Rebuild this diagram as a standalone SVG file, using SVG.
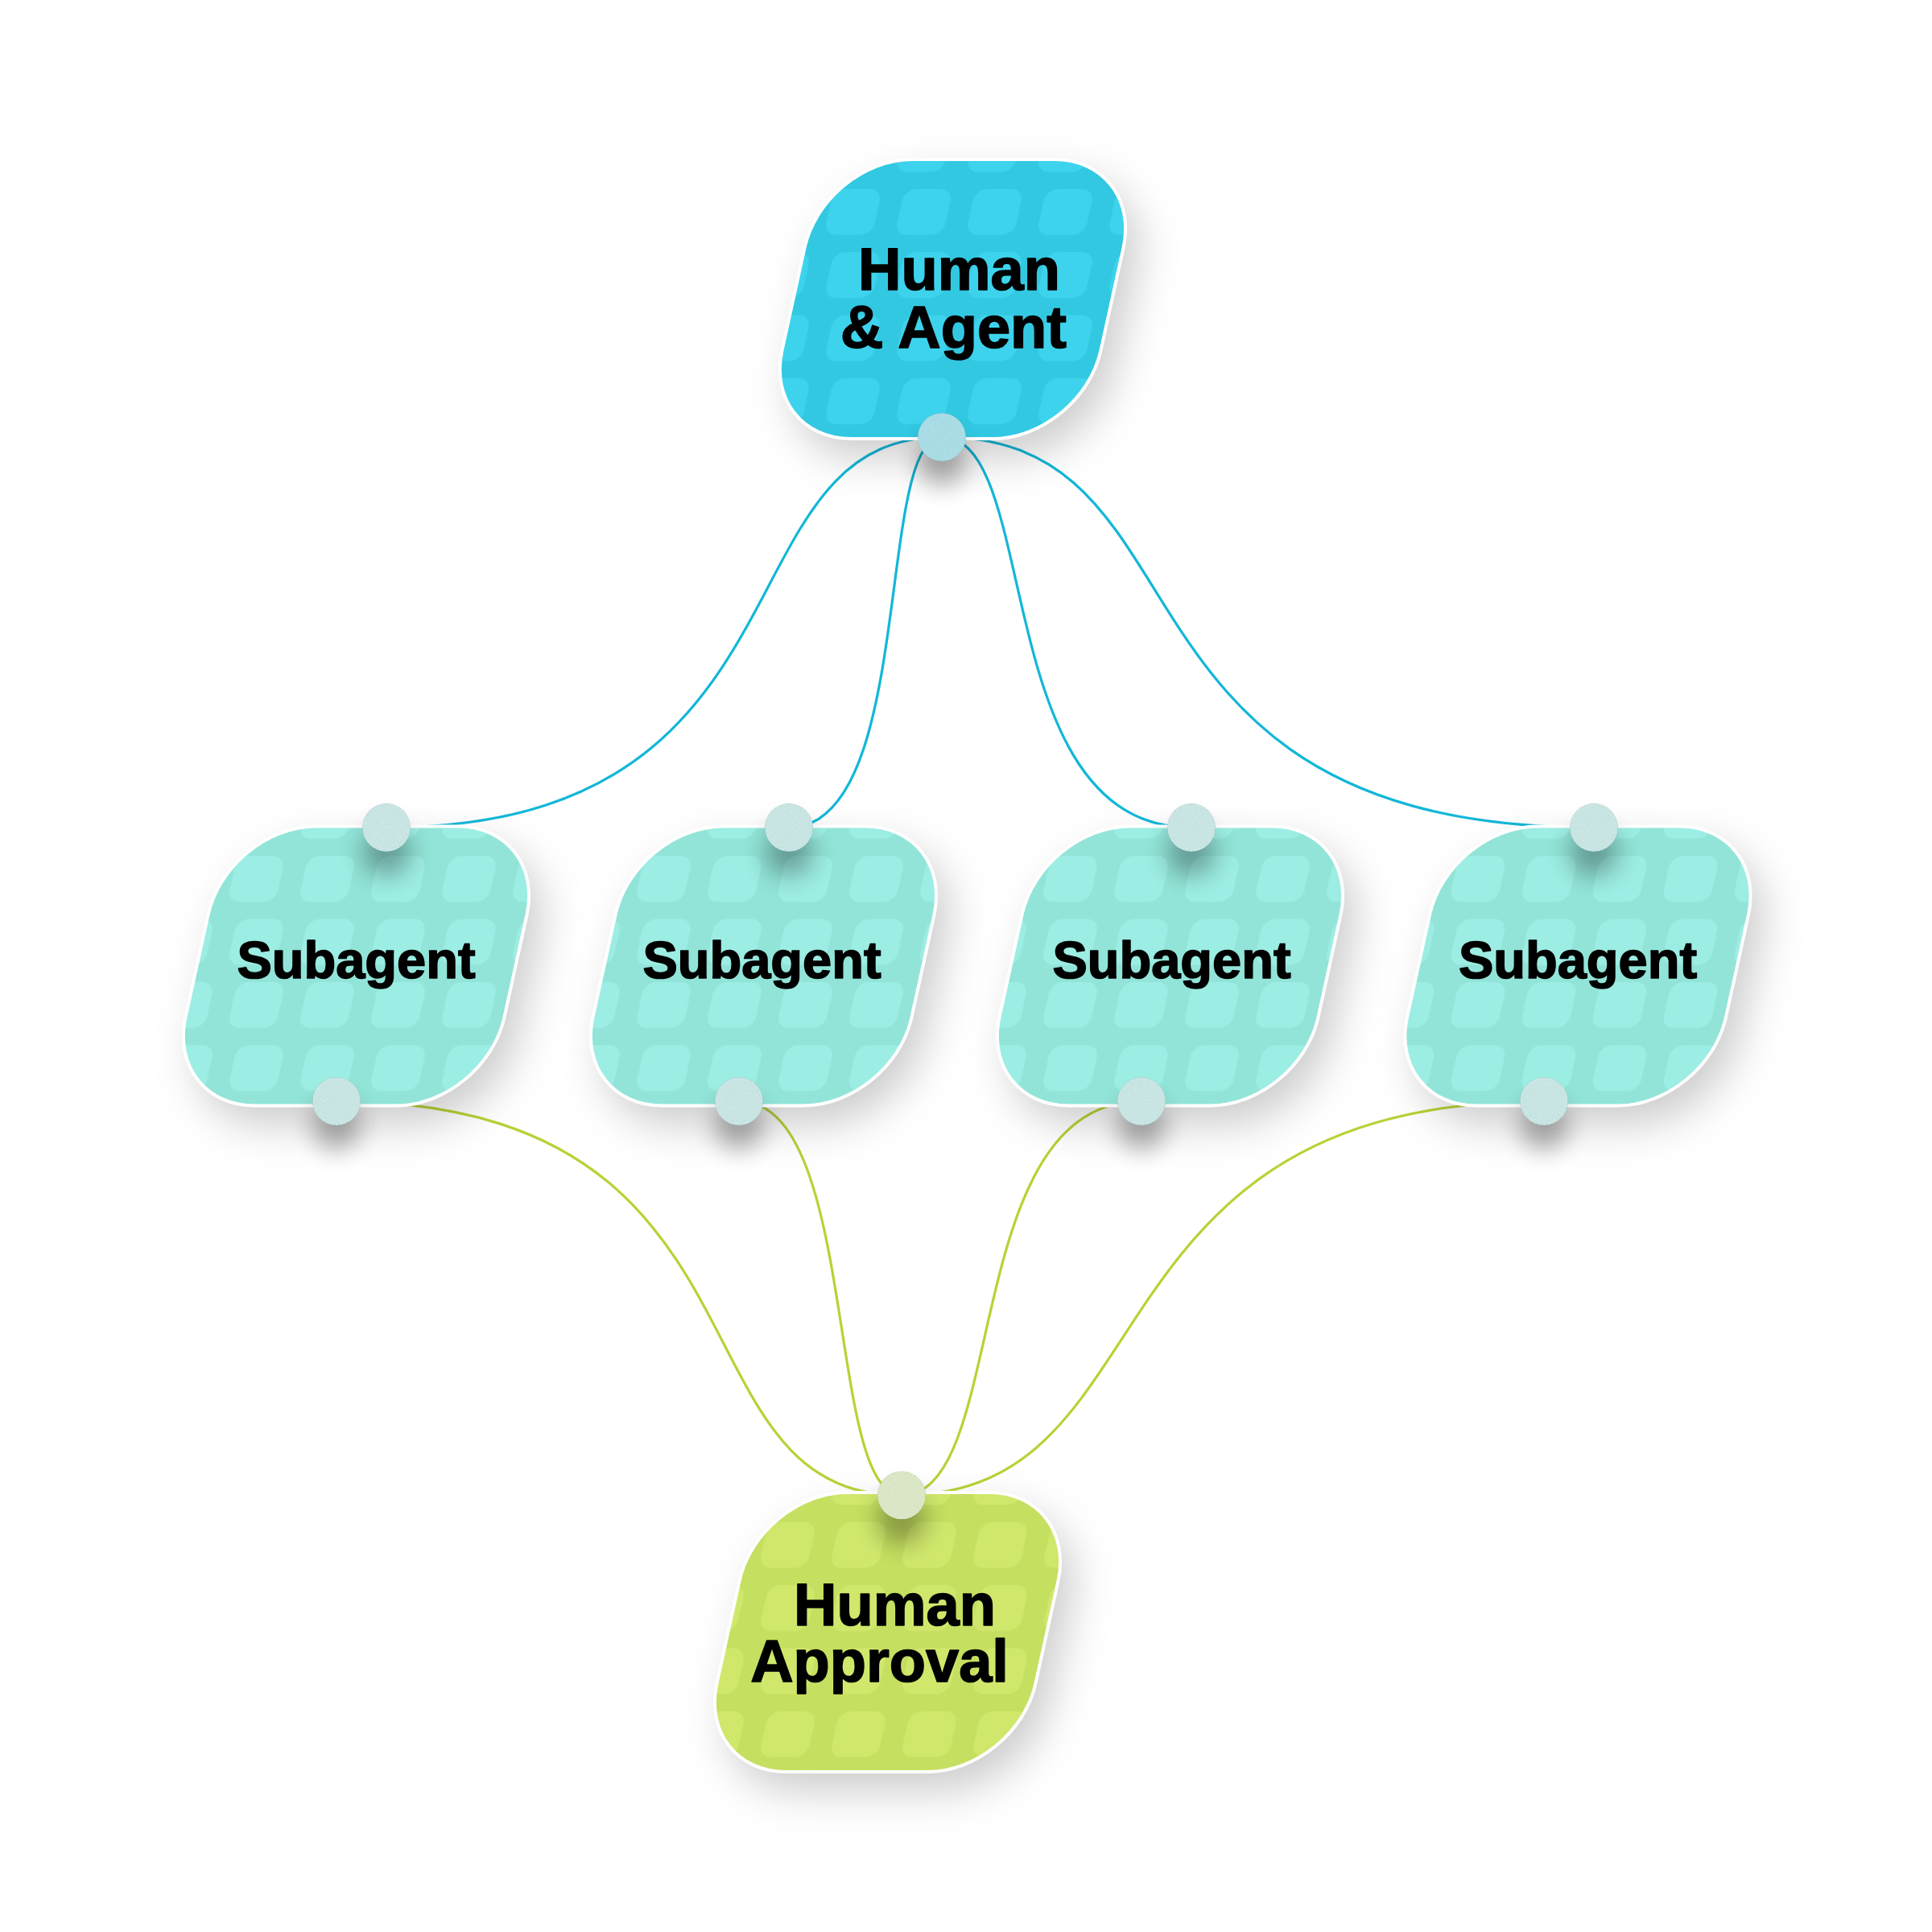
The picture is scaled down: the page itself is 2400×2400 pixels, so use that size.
<svg xmlns="http://www.w3.org/2000/svg" width="2400" height="2400" viewBox="0 0 2400 2400">
<defs>
<style>
.conn{fill:none;stroke-width:3.2;stroke-linecap:round}
.blue{stroke:#12b7d8}
.green{stroke:#b6d336}
.label{font-family:"Liberation Sans",Arial,sans-serif;font-weight:bold;fill:#000;stroke:#000;stroke-width:1.6;stroke-linejoin:round;text-anchor:middle}
.big{font-size:74px}
.mid{font-size:65px}
.outline{fill:none;stroke:#ffffff;stroke-width:4}
.portTop{fill:#a9dce5}
.portSub{fill:#c8e5e3}
.portBot{fill:#dbe6c6}
</style>
<path id="shape" d="M -49.83 -173.5 L 126.17 -173.5 C 186.92 -173.5 225.34 -124.25 211.97 -63.5 L 184.03 63.5 C 170.67 124.25 110.58 173.5 49.83 173.5 L -126.17 173.5 C -186.92 173.5 -225.34 124.25 -211.97 63.5 L -184.03 -63.5 C -170.67 -124.25 -110.58 -173.5 -49.83 -173.5 Z"/>
<pattern id="pTop" patternUnits="userSpaceOnUse" x="12" y="14" width="88" height="78.33">
<rect x="-30" y="-28.5" width="60" height="57" rx="15" transform="translate(40 34.5) skewX(-12.4)" fill="#3ed3ed"/>
</pattern>
<pattern id="pSub" patternUnits="userSpaceOnUse" x="12" y="14" width="88" height="78.33">
<rect x="-30" y="-28.5" width="60" height="57" rx="15" transform="translate(40 34.5) skewX(-12.4)" fill="#9cede3"/>
</pattern>
<pattern id="pBot" patternUnits="userSpaceOnUse" x="12" y="14" width="88" height="78.33">
<rect x="-30" y="-28.5" width="60" height="57" rx="15" transform="translate(40 34.5) skewX(-12.4)" fill="#cfe86c"/>
</pattern>
<filter id="nodeShadow" x="-40%" y="-40%" width="190%" height="190%">
<feDropShadow dx="16" dy="24" stdDeviation="26" flood-color="#000000" flood-opacity="0.2"/>
</filter>
<filter id="portFx" x="-150%" y="-150%" width="400%" height="500%" color-interpolation-filters="sRGB">
<feTurbulence type="fractalNoise" baseFrequency="1.1" numOctaves="1" seed="4" result="noise"/>
<feColorMatrix in="noise" type="matrix" values="0.33 0.33 0.33 0 0 0.33 0.33 0.33 0 0 0.33 0.33 0.33 0 0 0 0 0 0 1" result="gray"/>
<feComposite in="SourceGraphic" in2="gray" operator="arithmetic" k1="0" k2="1" k3="0.2" k4="-0.1" result="noisy"/>
<feComposite in="noisy" in2="SourceAlpha" operator="in" result="dot"/>
<feGaussianBlur in="SourceAlpha" stdDeviation="15" result="blur"/>
<feOffset in="blur" dy="30" result="off"/>
<feComponentTransfer in="off" result="sh"><feFuncA type="linear" slope="0.32"/></feComponentTransfer>
<feMerge><feMergeNode in="sh"/><feMergeNode in="dot"/></feMerge>
</filter>
</defs>
<rect width="2400" height="2400" fill="#ffffff"/>

<g id="connectors">
<path class="conn blue" d="M 1170 543 C 888 543 1025 1028 480 1028"/>
<path class="conn blue" d="M 1170 543 C 1087 543 1138 1028 980 1028"/>
<path class="conn blue" d="M 1170 543 C 1295 543 1227 1028 1480 1028"/>
<path class="conn blue" d="M 1170 543 C 1515 543 1350 1028 1980 1028"/>
<path class="conn green" d="M 418 1368 C 980 1368 825 1857.5 1120 1857.5"/>
<path class="conn green" d="M 918 1368 C 1068 1368 1025 1857.5 1120 1857.5"/>
<path class="conn green" d="M 1418 1368 C 1190 1368 1255 1857.5 1120 1857.5"/>
<path class="conn green" d="M 1918 1368 C 1333 1368 1460 1857.5 1120 1857.5"/>
</g>

<g id="node-human-agent">
<g transform="translate(1183.5 371.5)">
<use href="#shape" fill="#33c8e2" filter="url(#nodeShadow)"/>
<use href="#shape" fill="url(#pTop)"/>
<use href="#shape" class="outline"/>
<text class="label big"><tspan x="8" y="-11.5">Human</tspan><tspan x="1" y="60.5">&amp; Agent</tspan></text>
</g>
<circle class="portTop" cx="1170" cy="543" r="30" filter="url(#portFx)"/>
</g>

<g id="node-subagent-1">
<g transform="translate(442.5 1200)">
<use href="#shape" fill="#92e4d8" filter="url(#nodeShadow)"/>
<use href="#shape" fill="url(#pSub)"/>
<use href="#shape" class="outline"/>
<text class="label mid" x="0" y="15">Subagent</text>
</g>
<circle class="portSub" cx="480" cy="1028" r="30" filter="url(#portFx)"/>
<circle class="portSub" cx="418" cy="1368" r="30" filter="url(#portFx)"/>
</g>

<g id="node-subagent-2">
<g transform="translate(948.5 1200)">
<use href="#shape" fill="#92e4d8" filter="url(#nodeShadow)"/>
<use href="#shape" fill="url(#pSub)"/>
<use href="#shape" class="outline"/>
<text class="label mid" x="-2" y="15">Subagent</text>
</g>
<circle class="portSub" cx="980" cy="1028" r="30" filter="url(#portFx)"/>
<circle class="portSub" cx="918" cy="1368" r="30" filter="url(#portFx)"/>
</g>

<g id="node-subagent-3">
<g transform="translate(1453.5 1200)">
<use href="#shape" fill="#92e4d8" filter="url(#nodeShadow)"/>
<use href="#shape" fill="url(#pSub)"/>
<use href="#shape" class="outline"/>
<text class="label mid" x="2" y="15">Subagent</text>
</g>
<circle class="portSub" cx="1480" cy="1028" r="30" filter="url(#portFx)"/>
<circle class="portSub" cx="1418" cy="1368" r="30" filter="url(#portFx)"/>
</g>

<g id="node-subagent-4">
<g transform="translate(1960 1200)">
<use href="#shape" fill="#92e4d8" filter="url(#nodeShadow)"/>
<use href="#shape" fill="url(#pSub)"/>
<use href="#shape" class="outline"/>
<text class="label mid" x="0" y="15">Subagent</text>
</g>
<circle class="portSub" cx="1980" cy="1028" r="30" filter="url(#portFx)"/>
<circle class="portSub" cx="1918" cy="1368" r="30" filter="url(#portFx)"/>
</g>

<g id="node-human-approval">
<g transform="translate(1102.5 2027.5)">
<use href="#shape" fill="#c5df60" filter="url(#nodeShadow)"/>
<use href="#shape" fill="url(#pBot)"/>
<use href="#shape" class="outline"/>
<text class="label big"><tspan x="9" y="-9">Human</tspan><tspan x="-10" y="61">Approval</tspan></text>
</g>
<circle class="portBot" cx="1120" cy="1857.5" r="30" filter="url(#portFx)"/>
</g>
</svg>
